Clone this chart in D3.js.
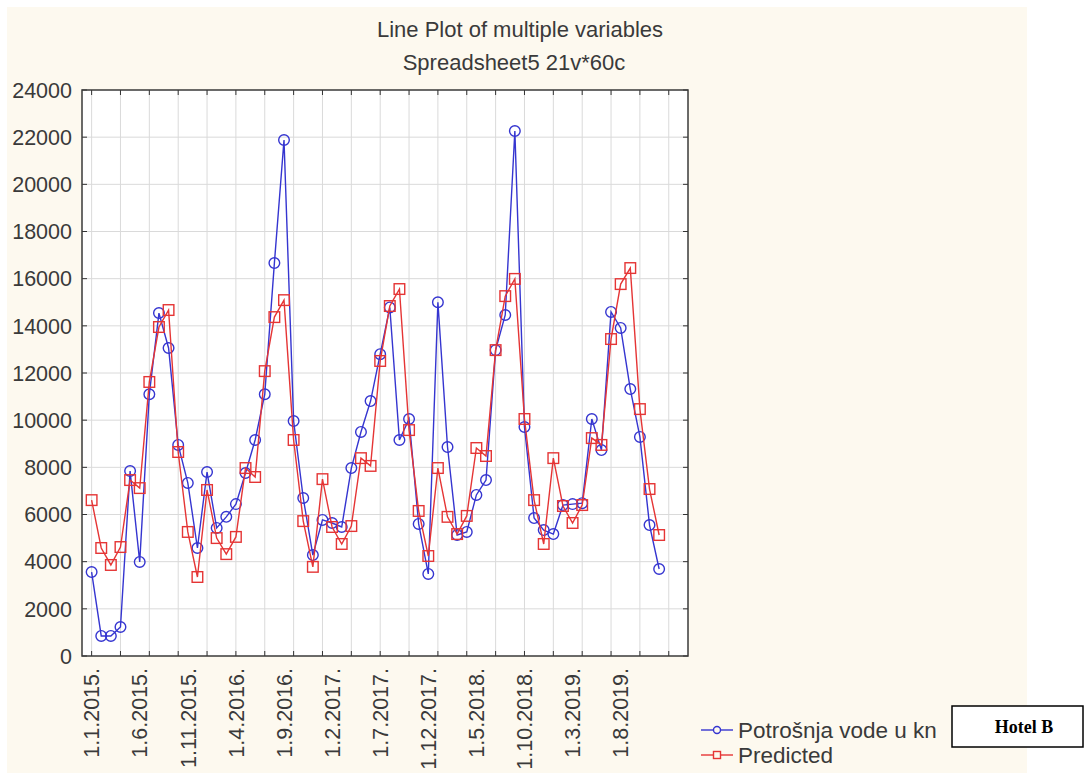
<!DOCTYPE html>
<html>
<head>
<meta charset="utf-8">
<script src="https://cdn.jsdelivr.net/npm/d3@7"></script>
<style>
  html, body { margin: 0; padding: 0; background: #ffffff; }
  svg { display: block; }
  .sans { font-family: "Liberation Sans", Arial, sans-serif; }
  .serif { font-family: "Liberation Serif", "Times New Roman", serif; }
</style>
</head>
<body>
<svg id="chart" width="1085" height="773"></svg>
<script>
// ---- data ----
const dateLabels = ["1.1.2015.", "1.6.2015.", "1.11.2015.", "1.4.2016.", "1.9.2016.", "1.2.2017.",
  "1.7.2017.", "1.12.2017.", "1.5.2018.", "1.10.2018.", "1.3.2019.", "1.8.2019."];
const labelStep = 5;   // one label every 5 cases
const gridStep = 3;    // one x tick / grid line every 3 cases
const yTicks = [0, 2000, 4000, 6000, 8000, 10000, 12000, 14000, 16000, 18000, 20000, 22000, 24000];

const potrosnja = [3560, 850, 850, 1230, 7840, 3990, 11100, 14540, 13060, 8950,
  7340, 4580, 7800, 5430, 5900, 6440, 7760, 9160, 11100, 16660,
  21880, 9960, 6700, 4280, 5770, 5640, 5470, 7970, 9500, 10810,
  12800, 14780, 9160, 10050, 5600, 3480, 15000, 8860, 5130, 5260,
  6830, 7460, 12970, 14460, 22260, 9710, 5850, 5340, 5170, 6400,
  6440, 6480, 10050, 8730, 14590, 13910, 11320, 9290, 5550, 3690];

const predicted = [6610, 4580, 3860, 4620, 7460, 7120, 11620, 13950, 14670, 8650,
  5260, 3350, 7040, 5000, 4320, 5050, 7970, 7590, 12080, 14370,
  15090, 9160, 5720, 3780, 7500, 5470, 4750, 5510, 8390, 8060,
  12510, 14840, 15560, 9580, 6150, 4240, 7970, 5900, 5170, 5940,
  8820, 8480, 12970, 15260, 15990, 10050, 6610, 4750, 8390, 6360,
  5640, 6400, 9240, 8950, 13440, 15770, 16450, 10470, 7080, 5130];

const seriesNames = ["Potrošnja vode u kn", "Predicted"];
const titleLines = ["Line Plot of multiple variables", "Spreadsheet5 21v*60c"];
const badge = "Hotel B";

// ---- layout ----
const svg = d3.select("#chart");
const L = 82, R = 688, T = 90, B = 656;
const blue = "#3535d0", red = "#e53535";
const txt = "#3a3a3a";

svg.append("rect").attr("x", 7).attr("y", 7).attr("width", 1020).attr("height", 766).attr("fill", "#fdf9ef");

const x = d3.scaleLinear().domain([-1, 62]).range([L, R]);
const y = d3.scaleLinear().domain([0, 24000]).range([B, T]);

svg.append("rect").attr("x", L).attr("y", T).attr("width", R - L).attr("height", B - T).attr("fill", "#ffffff");

const gridIdx = d3.range(0, 61, gridStep);
// grid
const g = svg.append("g");
g.selectAll("line.vg").data(gridIdx).join("line")
  .attr("x1", d => x(d)).attr("x2", d => x(d)).attr("y1", T).attr("y2", B)
  .attr("stroke", "#dadada").attr("stroke-width", 1);
g.selectAll("line.hg").data(yTicks.slice(1, -1)).join("line")
  .attr("x1", L).attr("x2", R).attr("y1", d => y(d)).attr("y2", d => y(d))
  .attr("stroke", "#dadada").attr("stroke-width", 1);

// inward ticks
const tk = 5;
g.selectAll("line.tb").data(gridIdx).join("line")
  .attr("x1", d => x(d)).attr("x2", d => x(d)).attr("y1", B).attr("y2", B - tk).attr("stroke", "#333");
g.selectAll("line.tt").data(gridIdx).join("line")
  .attr("x1", d => x(d)).attr("x2", d => x(d)).attr("y1", T).attr("y2", T + tk).attr("stroke", "#333");
g.selectAll("line.tl").data(yTicks).join("line")
  .attr("x1", L).attr("x2", L + tk).attr("y1", d => y(d)).attr("y2", d => y(d)).attr("stroke", "#333");
g.selectAll("line.tr").data(yTicks).join("line")
  .attr("x1", R).attr("x2", R - tk).attr("y1", d => y(d)).attr("y2", d => y(d)).attr("stroke", "#333");

// frame
svg.append("rect").attr("x", L).attr("y", T).attr("width", R - L).attr("height", B - T)
  .attr("fill", "none").attr("stroke", "#3a3a3a").attr("stroke-width", 1.5);

// y labels
svg.append("g").selectAll("text").data(yTicks).join("text")
  .attr("class", "sans")
  .attr("x", 72).attr("y", d => y(d)).attr("dy", "0.36em")
  .attr("text-anchor", "end").attr("font-size", 21.5).attr("fill", txt)
  .text(d => d);

// x labels
svg.append("g").selectAll("text").data(dateLabels).join("text")
  .attr("class", "sans")
  .attr("transform", (d, i) => `translate(${x(i * labelStep)},668) rotate(-90)`)
  .attr("dy", "0.36em").attr("text-anchor", "end").attr("font-size", 21.5).attr("fill", txt)
  .text(d => d);

// series
const line = d3.line().x((d, i) => x(i)).y(d => y(d));
function drawSeries(data, color, shape) {
  const s = svg.append("g");
  s.append("path").datum(data).attr("d", line).attr("fill", "none")
    .attr("stroke", color).attr("stroke-width", 1.4);
  if (shape === "circle") {
    s.selectAll("circle").data(data).join("circle")
      .attr("cx", (d, i) => x(i)).attr("cy", d => y(d)).attr("r", 5.3)
      .attr("fill", "none").attr("stroke", color).attr("stroke-width", 1.4);
  } else {
    s.selectAll("rect").data(data).join("rect")
      .attr("x", (d, i) => x(i) - 5.3).attr("y", d => y(d) - 5.3).attr("width", 10.6).attr("height", 10.6)
      .attr("fill", "none").attr("stroke", color).attr("stroke-width", 1.4);
  }
}
drawSeries(potrosnja, blue, "circle");
drawSeries(predicted, red, "square");

// title
svg.append("text").attr("class", "sans").attr("x", 520).attr("y", 37).attr("text-anchor", "middle")
  .attr("font-size", 22).attr("fill", txt).text(titleLines[0]);
svg.append("text").attr("class", "sans").attr("x", 514).attr("y", 70).attr("text-anchor", "middle")
  .attr("font-size", 22).attr("fill", txt).text(titleLines[1]);

// legend
const leg = svg.append("g");
const legY = [730, 755];
[[blue, "circle"], [red, "square"]].forEach(([c, sh], i) => {
  leg.append("line").attr("x1", 701).attr("x2", 733).attr("y1", legY[i]).attr("y2", legY[i])
    .attr("stroke", c).attr("stroke-width", 1.4);
  if (sh === "circle") {
    leg.append("circle").attr("cx", 717).attr("cy", legY[i]).attr("r", 3.5)
      .attr("fill", "#fdf9ef").attr("stroke", c).attr("stroke-width", 1.4);
  } else {
    leg.append("rect").attr("x", 713.5).attr("y", legY[i] - 3.5).attr("width", 7).attr("height", 7)
      .attr("fill", "#fdf9ef").attr("stroke", c).attr("stroke-width", 1.4);
  }
  leg.append("text").attr("class", "sans").attr("x", 738).attr("y", legY[i]).attr("dy", "0.36em")
    .attr("font-size", 22.5).attr("fill", txt).text(seriesNames[i]);
});

// badge
svg.append("rect").attr("x", 952).attr("y", 706).attr("width", 131).attr("height", 41)
  .attr("fill", "#ffffff").attr("stroke", "#000").attr("stroke-width", 1.5);
svg.append("text").attr("class", "serif").attr("x", 1024).attr("y", 733).attr("text-anchor", "middle")
  .attr("font-weight", "bold").attr("font-size", 18).attr("fill", "#000").text(badge);
</script>
</body>
</html>
